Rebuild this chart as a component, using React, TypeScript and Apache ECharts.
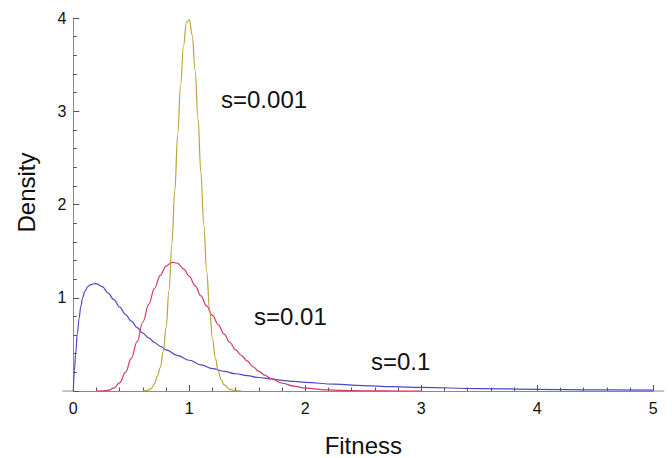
import React, { useEffect, useRef } from "react";
import * as echarts from "echarts";

// s = 0.1 (blue)
const blueX = [0, 0.01, 0.02, 0.035, 0.05, 0.065, 0.08, 0.1, 0.125, 0.15, 0.175, 0.2, 0.25, 0.3, 0.35, 0.4, 0.45, 0.5, 0.55, 0.6, 0.65, 0.7, 0.75, 0.8, 0.9, 1.0, 1.1, 1.2, 1.3, 1.4, 1.5, 1.6, 1.7, 1.8, 1.9, 2.0, 2.25, 2.5, 2.75, 3.0, 3.5, 4.0, 4.5, 5.0];
const blueY = [0, 0.22, 0.4, 0.62, 0.78, 0.91, 1.0, 1.07, 1.12, 1.14, 1.15, 1.148, 1.12, 1.05, 0.98, 0.9, 0.82, 0.75, 0.68, 0.62, 0.57, 0.52, 0.48, 0.44, 0.38, 0.33, 0.28, 0.24, 0.21, 0.185, 0.165, 0.145, 0.13, 0.115, 0.103, 0.093, 0.073, 0.058, 0.047, 0.038, 0.026, 0.018, 0.013, 0.009];

// s = 0.01 (crimson)
const redX = [0.2, 0.25, 0.3, 0.35, 0.4, 0.45, 0.5, 0.55, 0.6, 0.65, 0.7, 0.75, 0.8, 0.85, 0.9, 0.95, 1.0, 1.05, 1.1, 1.15, 1.2, 1.25, 1.3, 1.35, 1.4, 1.45, 1.5, 1.55, 1.6, 1.65, 1.7, 1.8, 1.9, 2.0, 2.2, 2.4, 2.6, 2.8, 3.0];
const redY = [0, 0.001, 0.006, 0.03, 0.09, 0.2, 0.35, 0.53, 0.74, 0.93, 1.1, 1.24, 1.34, 1.38, 1.37, 1.31, 1.23, 1.13, 1.02, 0.91, 0.81, 0.71, 0.61, 0.52, 0.44, 0.38, 0.32, 0.26, 0.21, 0.17, 0.135, 0.085, 0.052, 0.031, 0.011, 0.004, 0.001, 0, 0];

// s = 0.001 (olive)
const oliveX = [0.6, 0.65, 0.675, 0.7, 0.725, 0.75, 0.775, 0.8, 0.825, 0.85, 0.875, 0.9, 0.925, 0.95, 0.975, 1.0, 1.025, 1.05, 1.075, 1.1, 1.125, 1.15, 1.175, 1.2, 1.225, 1.25, 1.275, 1.3, 1.35, 1.4, 1.45];
const oliveY = [0, 0.01, 0.03, 0.08, 0.16, 0.25, 0.42, 0.68, 1.08, 1.58, 2.15, 2.75, 3.28, 3.7, 3.95, 3.98, 3.82, 3.44, 2.92, 2.34, 1.78, 1.28, 0.87, 0.56, 0.35, 0.21, 0.12, 0.065, 0.018, 0.004, 0];

const xTicks = [0, 1, 2, 3, 4, 5];
const yTicks = [0, 1, 2, 3, 4];

const labels = [
  { text: "s=0.001", x: 221, y: 99 },
  { text: "s=0.01", x: 254, y: 316 },
  { text: "s=0.1", x: 371, y: 361 },
];

const FONT = "'Liberation Sans', Arial, Helvetica, sans-serif";

function pairs(xs: number[], ys: number[]) {
  return xs.map((x, i) => [x, ys[i]]);
}

export default function App() {
  const ref = useRef<HTMLDivElement>(null);
  useEffect(() => {
    if (!ref.current) return;
    const chart = echarts.init(ref.current, undefined, { renderer: "svg" });
    const axisColor = "#8a8a8a";
    const tickColor = "#555";
    const option: any = {
      animation: false,
      backgroundColor: "#ffffff",
      grid: {
        left: 73.3,
        right: 18.7,
        top: 18,
        bottom: 67,
        containLabel: false,
        outerBoundsMode: "none",
      },
      xAxis: {
        type: "value",
        min: xTicks[0],
        max: xTicks[xTicks.length - 1],
        interval: 1,
        name: "Fitness",
        nameLocation: "middle",
        nameGap: 42,
        nameTextStyle: { fontFamily: FONT, fontSize: 24, color: "#111" },
        axisLine: { show: true, onZero: false, lineStyle: { color: axisColor, width: 1 } },
        axisTick: { show: true, inside: true, length: 6, lineStyle: { color: tickColor, width: 1 } },
        minorTick: { show: true, splitNumber: 5, length: 3.5, lineStyle: { color: tickColor, width: 1 } },
        splitLine: { show: false },
        minorSplitLine: { show: false },
        axisLabel: { fontFamily: FONT, fontSize: 16, color: "#111", margin: 9 },
      },
      yAxis: {
        type: "value",
        min: yTicks[0],
        max: yTicks[yTicks.length - 1],
        interval: 1,
        axisLine: { show: true, onZero: false, lineStyle: { color: axisColor, width: 1 } },
        axisTick: { show: true, inside: true, length: 6, lineStyle: { color: tickColor, width: 1 } },
        minorTick: { show: true, splitNumber: 5, length: 3.5, lineStyle: { color: tickColor, width: 1 } },
        splitLine: { show: false },
        minorSplitLine: { show: false },
        axisLabel: {
          fontFamily: FONT,
          fontSize: 16,
          color: "#111",
          margin: 7,
          formatter: (v: number) => (v === 0 ? "" : String(v)),
        },
      },
      series: [
        {
          name: "s=0.1",
          type: "line",
          data: pairs(blueX, blueY),
          showSymbol: false,
          smooth: 0.4,
          smoothMonotone: "x",
          lineStyle: { color: "#4a4ac6", width: 1.2 },
          z: 3,
        },
        {
          name: "s=0.01",
          type: "line",
          data: pairs(redX, redY),
          showSymbol: false,
          smooth: 0.4,
          smoothMonotone: "x",
          lineStyle: { color: "#d23a6c", width: 1.2 },
          z: 4,
        },
        {
          name: "s=0.001",
          type: "line",
          data: pairs(oliveX, oliveY),
          showSymbol: false,
          smooth: 0.4,
          smoothMonotone: "x",
          lineStyle: { color: "#bca33c", width: 1.2 },
          z: 5,
        },
      ],
    };
    chart.setOption(option);

    const p0 = chart.convertToPixel({ gridIndex: 0 }, [xTicks[0], 0]) as number[];
    const p5 = chart.convertToPixel({ gridIndex: 0 }, [xTicks[xTicks.length - 1], 0]) as number[];
    chart.setOption({
      graphic: [
        {
          type: "line",
          shape: { x1: p0[0] - 11, y1: p0[1], x2: p0[0], y2: p0[1] },
          style: { stroke: axisColor, lineWidth: 1 },
          z: 1,
        },
        {
          type: "line",
          shape: { x1: p5[0], y1: p5[1], x2: p5[0] + 11, y2: p5[1] },
          style: { stroke: axisColor, lineWidth: 1 },
          z: 1,
        },
        {
          type: "text",
          x: 26,
          y: 192.5,
          rotation: Math.PI / 2,
          style: {
            text: "Density",
            fontFamily: FONT,
            fontSize: 24,
            fill: "#111",
            align: "center",
            verticalAlign: "middle",
          },
        },
        ...labels.map((l) => ({
          type: "text",
          x: l.x,
          y: l.y,
          style: {
            text: l.text,
            fontFamily: FONT,
            fontSize: 24,
            fill: "#111",
            align: "left",
            verticalAlign: "middle",
          },
        })),
      ],
    });

    return () => chart.dispose();
  }, []);
  return (
    <div
      ref={ref}
      style={{ position: "absolute", left: 0, top: 0, width: 672, height: 458 }}
    />
  );
}
